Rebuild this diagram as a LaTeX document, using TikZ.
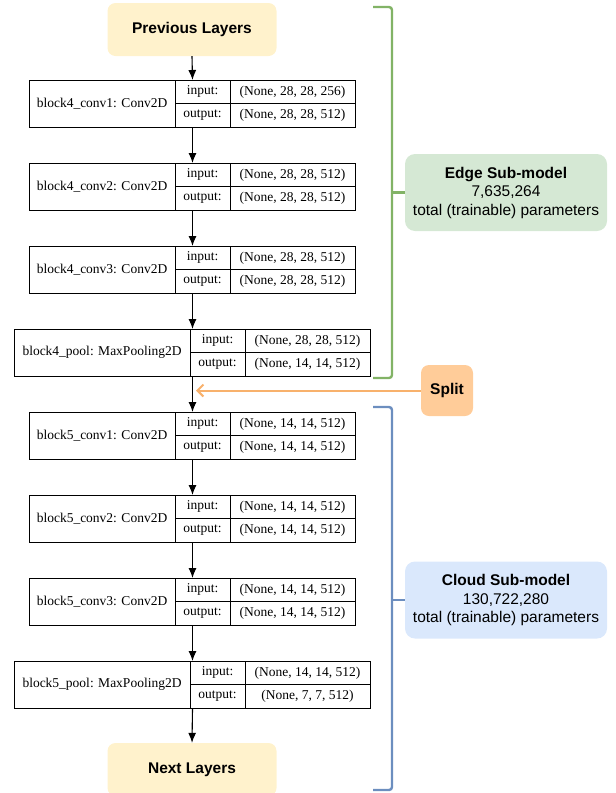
\documentclass[tikz,border=0pt]{standalone}
\usepackage{fontspec}
\setmainfont{Liberation Serif}
\newfontfamily\sansf{Liberation Sans}
\usetikzlibrary{arrows.meta}
\definecolor{yel}{HTML}{FFF2CC}
\definecolor{grnfill}{HTML}{D5E8D4}
\definecolor{grnline}{HTML}{82B366}
\definecolor{blufill}{HTML}{DAE8FC}
\definecolor{bluline}{HTML}{6C8EBF}
\definecolor{orgfill}{HTML}{FFCC99}
\definecolor{orgline}{HTML}{F8B16C}
\tikzset{
  layerbox/.style={fill=yel, rounded corners=8pt, minimum width=169pt, minimum height=53pt, inner sep=0pt, font=\sansf\bfseries\fontsize{15.5}{18}\selectfont},
  infobox/.style={rounded corners=10pt, minimum width=202pt, minimum height=77pt, inner sep=0pt, align=center, font=\sansf\fontsize{15.5}{18.5}\selectfont},
  blkbox/.style={draw, line width=1pt, inner sep=0pt, anchor=north west},
  celltext/.style={inner sep=0pt, font=\fontsize{13.5}{16}\selectfont},
  arr/.style={line width=1.1pt, -{Latex[length=10pt,width=8pt]}},
  brace/.style={line width=2.4pt, rounded corners=3pt},
}
% #1 name, #2 x0, #3 x1, #4 xa, #5 xb, #6 ytop, #7 label, #8 input, #9 output
\newcommand{\myblk}[9]{%
  \node[blkbox, minimum width={#3-#2}, minimum height=47pt] (#1) at (#2,#6) {};
  \draw[line width=1pt] (#4,#6) -- (#4,{#6+47});
  \draw[line width=1pt] (#5,#6) -- (#5,{#6+47});
  \draw[line width=1pt] (#4,{#6+23.5}) -- (#3,{#6+23.5});
  \node[celltext] (#1-lab) at ({(#2+#4)/2},{#6+23.5}) {#7};
  \node[celltext] (#1-in) at ({(#4+#5)/2},{#6+11.75}) {input:};
  \node[celltext] (#1-out) at ({(#4+#5)/2},{#6+35.25}) {output:};
  \node[celltext] (#1-inv) at ({(#5+#3)/2},{#6+11.75}) {#8};
  \node[celltext] (#1-outv) at ({(#5+#3)/2},{#6+35.25}) {#9};
}
\begin{document}
\begin{tikzpicture}[x=1pt,y=-1pt]
\useasboundingbox (0,0) rectangle (616,793);
\node[layerbox] (prev) at (192,29.5) {Previous Layers};
\myblk{b41}{29}{355}{175}{230}{80}{block4\_conv1: Conv2D}{(None, 28, 28, 256)}{(None, 28, 28, 512)}
\myblk{b42}{29}{355}{175}{230}{163}{block4\_conv2: Conv2D}{(None, 28, 28, 512)}{(None, 28, 28, 512)}
\myblk{b43}{29}{355}{175}{230}{246}{block4\_conv3: Conv2D}{(None, 28, 28, 512)}{(None, 28, 28, 512)}
\myblk{b4p}{14}{370}{190}{245}{329}{block4\_pool: MaxPooling2D}{(None, 28, 28, 512)}{(None, 14, 14, 512)}
\myblk{b51}{29}{355}{175}{230}{412}{block5\_conv1: Conv2D}{(None, 14, 14, 512)}{(None, 14, 14, 512)}
\myblk{b52}{29}{355}{175}{230}{495}{block5\_conv2: Conv2D}{(None, 14, 14, 512)}{(None, 14, 14, 512)}
\myblk{b53}{29}{355}{175}{230}{578}{block5\_conv3: Conv2D}{(None, 14, 14, 512)}{(None, 14, 14, 512)}
\myblk{b5p}{14}{370}{190}{245}{661}{block5\_pool: MaxPooling2D}{(None, 14, 14, 512)}{(None, 7, 7, 512)}
\node[layerbox] (next) at (192,769.5) {Next Layers};

\draw[arr] (prev.south) -- (b41.north);
\draw[arr] (b41.south) -- (b42.north);
\draw[arr] (b42.south) -- (b43.north);
\draw[arr] (b43.south) -- (b4p.north);
\draw[arr] (b4p.south) -- (b51.north);
\draw[arr] (b51.south) -- (b52.north);
\draw[arr] (b52.south) -- (b53.north);
\draw[arr] (b53.south) -- (b5p.north);
\draw[arr] (b5p.south) -- (next.north);

% edge sub-model
\node[infobox, fill=grnfill] (edge) at (506,192.5) {{\bfseries Edge Sub-model}\\7,635,264\\total (trainable) parameters};
\coordinate (gt) at (373,7);
\coordinate (gb) at (373,378);
\draw[brace, grnline] (gt) -- (392,7) -- (392,378) -- (gb);
\draw[brace, grnline] (392,192.5) -- (edge.west);

% split
\node[fill=orgfill, rounded corners=8pt, minimum width=52pt, minimum height=51pt, inner sep=0pt, font=\sansf\bfseries\fontsize{15.5}{18}\selectfont] (split) at (447,390.5) {Split};
\coordinate (st) at (196,390.5);
\draw[orgline, line width=2pt, -{Straight Barb[length=6pt,width=12pt]}] (split.west) -- (st);

% cloud sub-model
\node[infobox, fill=blufill] (cloud) at (506,600) {{\bfseries Cloud Sub-model}\\130,722,280\\total (trainable) parameters};
\coordinate (bt) at (373,407);
\coordinate (bb) at (373,790);
\draw[brace, bluline] (bt) -- (392,407) -- (392,790) -- (bb);
\draw[brace, bluline] (392,600) -- (cloud.west);
\end{tikzpicture}
\end{document}
